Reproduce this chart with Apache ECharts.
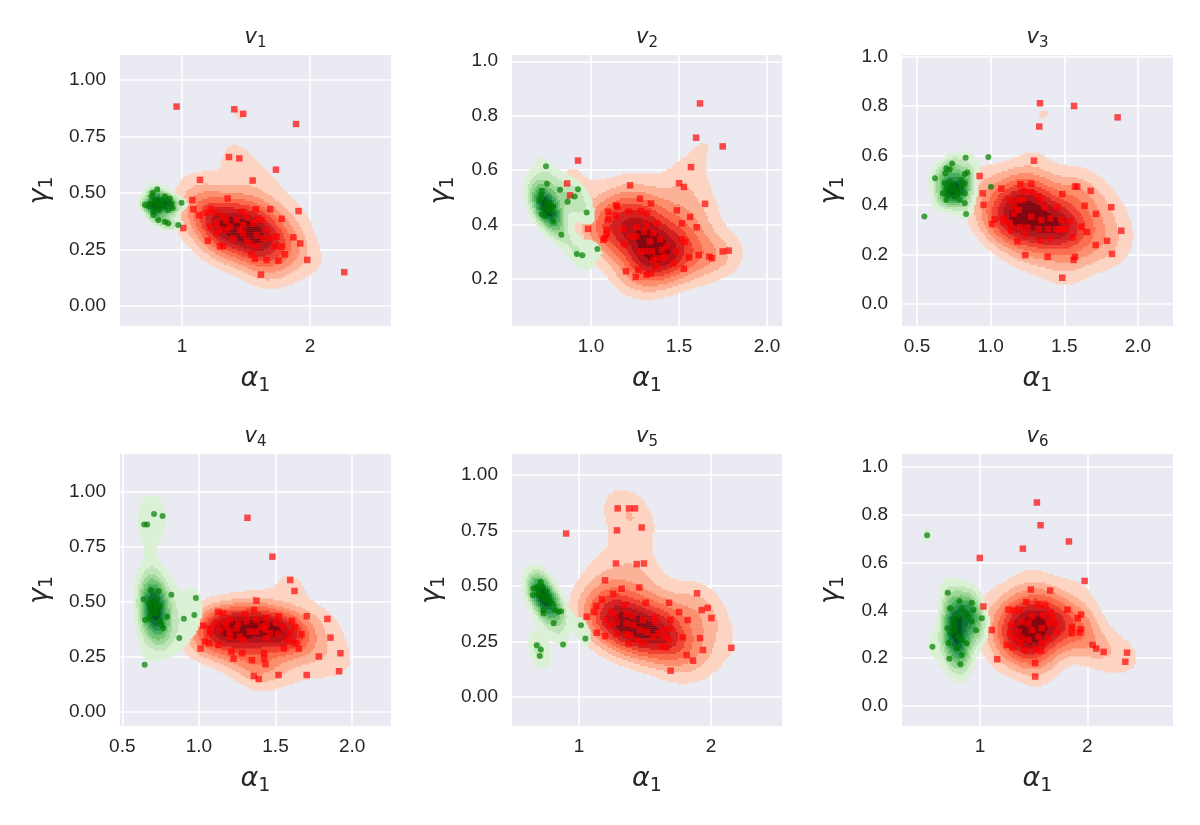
<!DOCTYPE html>
<html>
<head>
<meta charset="utf-8">
<script src="https://cdn.jsdelivr.net/npm/echarts@6/dist/echarts.min.js"></script>
<style>
  html, body { margin: 0; background: #fff; }
  #chart { width: 1200px; height: 825px; }
</style>
</head>
<body>
<div id="chart"></div>
<script>
// points: [alpha1, gamma1]
const v1Red = [[0.958,0.882],[1.409,0.870],[1.479,0.850],[1.891,0.805],[1.367,0.659],[1.448,0.653],[1.734,0.603],[1.141,0.558],[1.552,0.555],
  [1.081,0.469],[1.357,0.476],[1.089,0.428],[1.224,0.429],[1.578,0.428],[1.690,0.429],[1.911,0.420],[1.135,0.401],[1.193,0.413],[1.258,0.414],
  [1.344,0.376],[1.427,0.381],[1.505,0.395],[1.583,0.383],[1.779,0.386],[1.219,0.351],[1.297,0.339],[1.479,0.358],[1.557,0.366],[1.622,0.381],
  [1.271,0.322],[1.349,0.336],[1.401,0.299],[1.479,0.322],[1.505,0.292],[1.583,0.314],[1.635,0.299],[1.688,0.299],[1.740,0.307],[1.870,0.304],
  [1.924,0.277],[1.201,0.289],[1.297,0.265],[1.323,0.265],[1.531,0.277],[1.583,0.265],[1.727,0.265],[1.779,0.263],[1.544,0.230],[1.570,0.209],
  [1.661,0.204],[1.753,0.201],[1.802,0.229],[1.979,0.204],[1.617,0.139],[2.268,0.150],[1.010,0.345],[1.271,0.366],[1.375,0.351],[1.453,0.336],
  [1.661,0.336],[1.323,0.395],[1.466,0.417]];
const v1Green = [[0.771,0.501],[0.807,0.516],[0.763,0.484],[0.711,0.447],[0.750,0.454],[0.789,0.462],[0.828,0.469],[0.867,0.484],[0.893,0.462],
  [0.919,0.454],[0.927,0.432],[0.997,0.457],[0.776,0.417],[0.815,0.425],[0.854,0.440],[0.893,0.425],[0.776,0.403],[0.815,0.381],[0.867,0.373],
  [0.893,0.366],[0.971,0.358],[0.745,0.440],[0.802,0.447],[0.841,0.454],[0.906,0.476]];

const v2Red = [[1.619,0.845],[1.597,0.719],[1.748,0.687],[0.926,0.635],[1.568,0.611],[0.864,0.551],[0.881,0.507],[1.222,0.544],[1.500,0.552],
  [1.528,0.538],[1.278,0.495],[1.341,0.477],[1.648,0.476],[1.142,0.470],[1.150,0.466],[1.098,0.447],[1.140,0.433],[1.216,0.448],[1.284,0.450],
  [1.318,0.441],[1.487,0.452],[1.563,0.428],[1.098,0.419],[1.517,0.404],[1.600,0.390],[0.983,0.384],[1.089,0.380],[1.184,0.383],[1.259,0.390],
  [1.316,0.399],[1.373,0.405],[1.089,0.366],[1.070,0.344],[1.080,0.350],[1.188,0.328],[1.256,0.356],[1.301,0.374],[1.335,0.338],[1.392,0.346],
  [1.515,0.346],[1.534,0.336],[1.278,0.301],[1.307,0.301],[1.345,0.301],[1.402,0.307],[1.430,0.319],[1.354,0.270],[1.373,0.276],[1.411,0.276],
  [1.468,0.258],[1.483,0.301],[1.557,0.279],[1.612,0.288],[1.672,0.282],[1.688,0.276],[1.748,0.301],[1.782,0.304],[1.199,0.228],[1.254,0.207],
  [1.269,0.234],[1.316,0.216],[1.341,0.220],[1.527,0.237],[1.222,0.356],[1.354,0.368],[1.420,0.282],[1.373,0.245]];
const v2Green = [[0.744,0.614],[0.750,0.550],[0.824,0.528],[0.926,0.530],[0.720,0.524],[0.714,0.506],[0.710,0.491],[0.907,0.503],[0.867,0.484],
  [0.748,0.479],[0.767,0.473],[0.786,0.466],[0.729,0.460],[0.758,0.454],[0.777,0.448],[0.720,0.436],[0.739,0.430],[0.786,0.411],[0.975,0.444],
  [0.831,0.362],[1.036,0.310],[0.919,0.292],[0.951,0.287]];

const v3Red = [[1.335,0.811],[1.566,0.800],[1.862,0.754],[1.330,0.717],[1.294,0.579],[0.925,0.517],[1.201,0.484],[1.276,0.486],[1.572,0.475],
  [1.588,0.474],[1.679,0.457],[1.072,0.466],[0.946,0.447],[1.224,0.457],[1.276,0.451],[1.486,0.444],[1.326,0.434],[1.344,0.418],[1.638,0.397],
  [1.819,0.391],[0.952,0.400],[1.129,0.418],[1.186,0.420],[1.219,0.420],[1.158,0.393],[1.190,0.380],[1.367,0.389],[1.450,0.391],[1.715,0.364],
  [1.158,0.364],[1.027,0.342],[1.009,0.323],[1.086,0.346],[1.095,0.333],[1.344,0.339],[1.407,0.346],[1.536,0.333],[1.140,0.299],[1.197,0.310],
  [1.249,0.308],[1.326,0.302],[1.389,0.302],[1.446,0.302],[1.468,0.302],[1.491,0.302],[1.514,0.303],[1.654,0.291],[1.887,0.296],[1.231,0.281],
  [1.339,0.256],[1.407,0.264],[1.559,0.269],[1.181,0.253],[1.713,0.238],[1.790,0.255],[1.235,0.197],[1.387,0.191],[1.572,0.191],[1.563,0.178],
  [1.824,0.202],[1.486,0.106],[1.129,0.326],[1.276,0.353],[1.480,0.339],[1.615,0.312]];
const v3Green = [[0.830,0.591],[0.984,0.594],[0.738,0.568],[0.699,0.548],[0.722,0.544],[0.692,0.528],[0.824,0.525],[0.842,0.531],[0.622,0.508],
  [1.002,0.474],[0.688,0.488],[0.722,0.494],[0.744,0.481],[0.801,0.501],[0.824,0.488],[0.699,0.467],[0.733,0.463],[0.767,0.461],[0.801,0.474],
  [0.824,0.447],[0.710,0.440],[0.756,0.434],[0.790,0.420],[0.824,0.407],[0.699,0.420],[0.833,0.364],[0.550,0.353],[0.676,0.447],[0.778,0.447]];

const v4Red = [[1.317,0.883],[1.480,0.706],[1.596,0.600],[1.624,0.550],[1.376,0.506],[1.361,0.464],[1.126,0.455],[1.159,0.448],[1.300,0.445],
  [1.437,0.426],[1.520,0.435],[1.607,0.415],[1.704,0.435],[1.839,0.423],[1.028,0.392],[1.072,0.380],[1.115,0.403],[1.170,0.406],[1.202,0.418],
  [1.257,0.403],[1.311,0.411],[1.376,0.418],[1.441,0.395],[1.507,0.406],[1.550,0.388],[1.626,0.385],[1.072,0.358],[1.137,0.373],[1.202,0.365],
  [1.246,0.380],[1.333,0.365],[1.376,0.365],[1.430,0.376],[1.463,0.358],[1.517,0.355],[1.593,0.358],[1.670,0.353],[1.859,0.338],[1.039,0.320],
  [1.065,0.312],[1.128,0.305],[1.202,0.342],[1.289,0.327],[1.441,0.335],[1.572,0.327],[1.611,0.320],[1.633,0.312],[1.652,0.288],[1.554,0.288],
  [1.011,0.288],[1.213,0.273],[1.283,0.267],[1.426,0.267],[1.426,0.244],[1.226,0.242],[1.346,0.235],[1.435,0.217],[1.783,0.252],[1.924,0.267],
  [1.359,0.164],[1.391,0.150],[1.520,0.168],[1.704,0.168],[1.915,0.185],[1.180,0.388],[1.267,0.342],[1.409,0.388]];
const v4Green = [[0.707,0.900],[0.763,0.891],[0.643,0.852],[0.663,0.852],[0.687,0.555],[0.737,0.550],[0.639,0.512],[0.820,0.533],[0.980,0.518],
  [0.670,0.494],[0.702,0.497],[0.724,0.486],[0.680,0.471],[0.713,0.464],[0.746,0.479],[0.691,0.448],[0.724,0.448],[0.793,0.433],[0.648,0.418],
  [0.676,0.426],[0.746,0.411],[0.767,0.380],[0.757,0.395],[0.970,0.441],[0.902,0.424],[0.872,0.336],[0.646,0.214],[0.713,0.509]];

const v5Red = [[1.293,0.850],[1.379,0.850],[1.424,0.850],[1.288,0.751],[1.475,0.764],[0.902,0.737],[1.280,0.602],[1.437,0.599],[1.492,0.602],
  [1.197,0.526],[1.323,0.488],[1.457,0.494],[1.894,0.468],[1.258,0.465],[1.505,0.425],[1.682,0.425],[1.174,0.440],[1.129,0.411],[1.114,0.384],
  [1.758,0.383],[1.929,0.392],[1.975,0.402],[2.003,0.356],[1.058,0.362],[1.242,0.384],[1.273,0.369],[1.348,0.414],[1.356,0.374],[1.407,0.365],
  [1.576,0.359],[1.692,0.347],[1.823,0.347],[1.210,0.347],[1.235,0.324],[1.285,0.339],[1.361,0.332],[1.412,0.324],[1.462,0.302],[1.513,0.294],
  [1.576,0.339],[1.639,0.302],[1.689,0.309],[1.134,0.290],[1.197,0.275],[1.356,0.284],[1.386,0.279],[1.437,0.257],[1.487,0.245],[1.374,0.242],
  [1.601,0.287],[1.652,0.272],[1.684,0.260],[1.785,0.270],[1.917,0.266],[1.619,0.227],[1.664,0.224],[1.939,0.212],[2.154,0.222],[1.816,0.189],
  [1.864,0.164],[1.694,0.119],[1.563,0.272],[1.285,0.287],[1.487,0.347]];
const v5Green = [[0.710,0.520],[0.684,0.497],[0.722,0.497],[0.654,0.489],[0.699,0.474],[0.755,0.474],[0.649,0.459],[0.717,0.455],[0.768,0.452],
  [0.742,0.437],[0.780,0.429],[0.801,0.419],[0.818,0.392],[0.730,0.392],[0.843,0.384],[0.864,0.387],[0.730,0.377],[0.808,0.333],[1.015,0.324],
  [1.048,0.264],[0.879,0.237],[0.679,0.234],[0.710,0.215],[0.702,0.185],[0.692,0.467]];

const v6Red = [[1.530,0.851],[1.564,0.756],[1.829,0.688],[1.399,0.658],[0.997,0.619],[1.975,0.523],[1.474,0.487],[1.654,0.483],[1.430,0.434],
  [1.539,0.424],[1.607,0.420],[1.265,0.403],[1.315,0.399],[1.364,0.402],[1.816,0.403],[1.654,0.388],[1.941,0.382],[1.910,0.367],[1.589,0.379],
  [1.670,0.370],[1.483,0.374],[1.389,0.353],[1.296,0.339],[1.109,0.318],[1.452,0.346],[1.639,0.346],[1.701,0.346],[1.857,0.328],[1.938,0.321],
  [1.280,0.304],[1.358,0.311],[1.483,0.318],[1.576,0.325],[1.717,0.311],[1.928,0.307],[1.857,0.304],[1.389,0.283],[1.452,0.276],[1.545,0.290],
  [1.639,0.283],[1.249,0.255],[1.302,0.245],[1.374,0.262],[1.421,0.234],[1.514,0.237],[1.567,0.230],[2.050,0.255],[2.084,0.240],[2.153,0.226],
  [2.371,0.223],[2.355,0.185],[1.159,0.195],[1.514,0.179],[1.514,0.123],[1.031,0.416],[1.576,0.262],[1.327,0.283]];
const v6Green = [[0.505,0.714],[0.698,0.474],[0.807,0.439],[0.922,0.432],[0.720,0.409],[0.829,0.409],[0.938,0.402],[0.875,0.388],[0.798,0.374],
  [1.016,0.367],[0.751,0.360],[0.922,0.353],[0.695,0.325],[0.766,0.318],[0.963,0.317],[0.720,0.304],[0.798,0.290],[0.829,0.276],[0.704,0.262],
  [0.875,0.262],[0.555,0.248],[0.782,0.241],[0.829,0.213],[0.713,0.197],[0.816,0.174],[0.891,0.374],[0.766,0.339]];

const redSets = [v1Red, v2Red, v3Red, v4Red, v5Red, v6Red];
const greenSets = [v1Green, v2Green, v3Green, v4Green, v5Green, v6Green];
const panelIndex = ['1', '2', '3', '4', '5', '6'];

const xRanges = [[0.516, 2.633], [0.551, 2.085], [0.398, 2.238], [0.485, 2.254], [0.492, 2.538], [0.271, 2.80]];
const yRanges = [[-0.088, 1.11], [0.027, 1.023], [-0.089, 1.006], [-0.064, 1.173], [-0.13, 1.095], [-0.084, 1.054]];
const xTicks = [[1, 2], [1.0, 1.5, 2.0], [0.5, 1.0, 1.5, 2.0], [0.5, 1.0, 1.5, 2.0], [1, 2], [1, 2]];
const xDigits = [0, 1, 1, 1, 0, 0];
const yTicks = [
  [0, 0.25, 0.5, 0.75, 1.0],
  [0.2, 0.4, 0.6, 0.8, 1.0],
  [0, 0.2, 0.4, 0.6, 0.8, 1.0],
  [0, 0.25, 0.5, 0.75, 1.0],
  [0, 0.25, 0.5, 0.75, 1.0],
  [0, 0.2, 0.4, 0.6, 0.8, 1.0]
];
const yDigits = [2, 1, 1, 2, 2, 1];

// layout of the six panels (px)
const boxes = [
  { left: 120, top: 55, width: 271, height: 271 },
  { left: 512, top: 55, width: 270, height: 271 },
  { left: 902, top: 55, width: 271, height: 271 },
  { left: 120, top: 454, width: 271, height: 272 },
  { left: 512, top: 454, width: 270, height: 272 },
  { left: 902, top: 454, width: 271, height: 272 }
];

const redsMap = ['#fff5f0', '#fee0d2', '#fcbba1', '#fc9272', '#fb6a4a', '#ef3b2c', '#cb181d', '#a50f15', '#67000d'];
const greensMap = ['#f7fcf5', '#e5f5e0', '#c7e9c0', '#a1d99b', '#74c476', '#41ab5d', '#238b45', '#006d2c', '#00441b'];

function hexRgb(h) {
  return [parseInt(h.slice(1, 3), 16), parseInt(h.slice(3, 5), 16), parseInt(h.slice(5, 7), 16)];
}
function sampleMap(stops, t) {
  const p = t * (stops.length - 1);
  const i = Math.min(stops.length - 2, Math.floor(p));
  const f = p - i;
  const a = hexRgb(stops[i]), b = hexRgb(stops[i + 1]);
  const c = a.map((v, k) => Math.round(v + (b[k] - v) * f));
  return 'rgb(' + c.join(',') + ')';
}
// contour levels: 0, step, 2*step, ... ; lowest band left empty
const NLEV = 9;
const redBands = [], greenBands = [];
for (let k = 0; k < NLEV; k++) {
  redBands.push(sampleMap(redsMap, (k + 0.5) / NLEV));
  greenBands.push(sampleMap(greensMap, (k + 0.5) / NLEV));
}

// gaussian kde (scott factor, full covariance) -> runs of equal band per row
function kdeCells(pts, xr, yr, n) {
  const m = pts.length;
  let mx = 0, my = 0;
  pts.forEach(p => { mx += p[0]; my += p[1]; });
  mx /= m; my /= m;
  let sxx = 0, syy = 0, sxy = 0;
  pts.forEach(p => {
    const dx = p[0] - mx, dy = p[1] - my;
    sxx += dx * dx; syy += dy * dy; sxy += dx * dy;
  });
  const f2 = Math.pow(m, -1 / 3) / (m - 1);
  const a = sxx * f2, b = sxy * f2, d = syy * f2;
  const det = a * d - b * b;
  const ia = d / det, ib = -b / det, id = a / det;
  const dxs = (xr[1] - xr[0]) / n, dys = (yr[1] - yr[0]) / n;
  const dens = new Float64Array(n * n);
  let max = 0;
  for (let j = 0; j < n; j++) {
    const y = yr[0] + (j + 0.5) * dys;
    for (let i = 0; i < n; i++) {
      const x = xr[0] + (i + 0.5) * dxs;
      let s = 0;
      for (let q = 0; q < m; q++) {
        const ex = x - pts[q][0], ey = y - pts[q][1];
        s += Math.exp(-0.5 * (ia * ex * ex + 2 * ib * ex * ey + id * ey * ey));
      }
      dens[j * n + i] = s;
      if (s > max) max = s;
    }
  }
  const step = max / NLEV;
  const band = v => Math.min(NLEV - 1, Math.floor(v / step));
  const cells = [];
  for (let j = 0; j < n; j++) {
    let i = 0;
    while (i < n) {
      const bd = band(dens[j * n + i]);
      let k = i + 1;
      while (k < n && band(dens[j * n + k]) === bd) k++;
      if (bd > 0) {
        cells.push([xr[0] + i * dxs, xr[0] + k * dxs, yr[0] + j * dys, yr[0] + (j + 1) * dys, bd]);
      }
      i = k;
    }
  }
  return cells;
}

function cellRenderer(colors) {
  return function (params, api) {
    const p0 = api.coord([api.value(0), api.value(3)]);
    const p1 = api.coord([api.value(1), api.value(2)]);
    return {
      type: 'rect',
      shape: { x: p0[0], y: p0[1], width: p1[0] - p0[0] + 0.5, height: p1[1] - p0[1] + 0.5 },
      style: { fill: colors[api.value(4)] }
    };
  };
}

// italic symbol + lowered subscript
const mathRich = (size, sub, drop) => ({
  i: { fontFamily: 'DejaVu Sans', fontStyle: 'italic', fontWeight: 'normal', fontSize: size, color: '#262626', lineHeight: Math.round(size * 1.2) },
  s: { fontFamily: 'DejaVu Sans', fontWeight: 'normal', fontSize: sub, color: '#262626', lineHeight: Math.round(size * 1.2), padding: [drop * 2, 0, 0, 0] }
});

const chart = echarts.init(document.getElementById('chart'), null, { renderer: 'canvas' });

const grids = [], xAxes = [], yAxes = [], series = [], titles = [];
boxes.forEach((bx, p) => {
  grids.push({
    left: bx.left, top: bx.top, width: bx.width, height: bx.height,
    show: true, backgroundColor: '#eaeaf2', borderWidth: 0
  });
  titles.push({
    text: '{i|v}{s|' + panelIndex[p] + '}',
    left: bx.left + bx.width / 2,
    top: bx.top - 30,
    textAlign: 'center',
    padding: 0,
    textStyle: { fontWeight: 'normal', rich: mathRich(21, 15, 6) }
  });
  xAxes.push({
    gridIndex: p, type: 'value', min: xRanges[p][0], max: xRanges[p][1],
    axisLine: { show: false },
    axisTick: { show: false, customValues: xTicks[p] },
    axisLabel: {
      customValues: xTicks[p], color: '#262626', fontSize: 19, fontFamily: 'Liberation Sans', margin: 11,
      formatter: v => v.toFixed(xDigits[p])
    },
    splitLine: { show: true, lineStyle: { color: '#ffffff', width: 1.6 } },
    name: '{i|α}{s|1}', nameLocation: 'middle', nameGap: 37,
    nameTextStyle: { rich: mathRich(27, 19, 7) }
  });
  yAxes.push({
    gridIndex: p, type: 'value', min: yRanges[p][0], max: yRanges[p][1],
    axisLine: { show: false },
    axisTick: { show: false, customValues: yTicks[p] },
    axisLabel: {
      customValues: yTicks[p], color: '#262626', fontSize: 19, fontFamily: 'Liberation Sans', margin: 14,
      formatter: v => v.toFixed(yDigits[p])
    },
    splitLine: { show: true, lineStyle: { color: '#ffffff', width: 1.6 } },
    name: '{i|γ}{s|1}', nameLocation: 'middle', nameGap: yDigits[p] === 2 ? 64 : 55,
    nameTextStyle: { rich: mathRich(27, 19, 7) }
  });
  const nGrid = Math.round(bx.width / 2);
  series.push({
    type: 'custom', xAxisIndex: p, yAxisIndex: p, z: 1, clip: true, silent: true, progressive: 0,
    renderItem: cellRenderer(redBands),
    data: kdeCells(redSets[p], xRanges[p], yRanges[p], nGrid)
  });
  series.push({
    type: 'custom', xAxisIndex: p, yAxisIndex: p, z: 2, clip: true, silent: true, progressive: 0,
    renderItem: cellRenderer(greenBands),
    data: kdeCells(greenSets[p], xRanges[p], yRanges[p], nGrid)
  });
  series.push({
    type: 'scatter', xAxisIndex: p, yAxisIndex: p, z: 3, silent: true,
    symbol: 'rect', symbolSize: 6.5,
    itemStyle: { color: 'rgba(255,0,0,0.85)' },
    data: redSets[p]
  });
  series.push({
    type: 'scatter', xAxisIndex: p, yAxisIndex: p, z: 4, silent: true,
    symbol: 'circle', symbolSize: 6,
    itemStyle: { color: 'rgba(0,125,0,0.88)' },
    data: greenSets[p]
  });
});

chart.setOption({
  backgroundColor: '#ffffff',
  animation: false,
  title: titles,
  grid: grids,
  xAxis: xAxes,
  yAxis: yAxes,
  series: series
});
</script>
</body>
</html>
